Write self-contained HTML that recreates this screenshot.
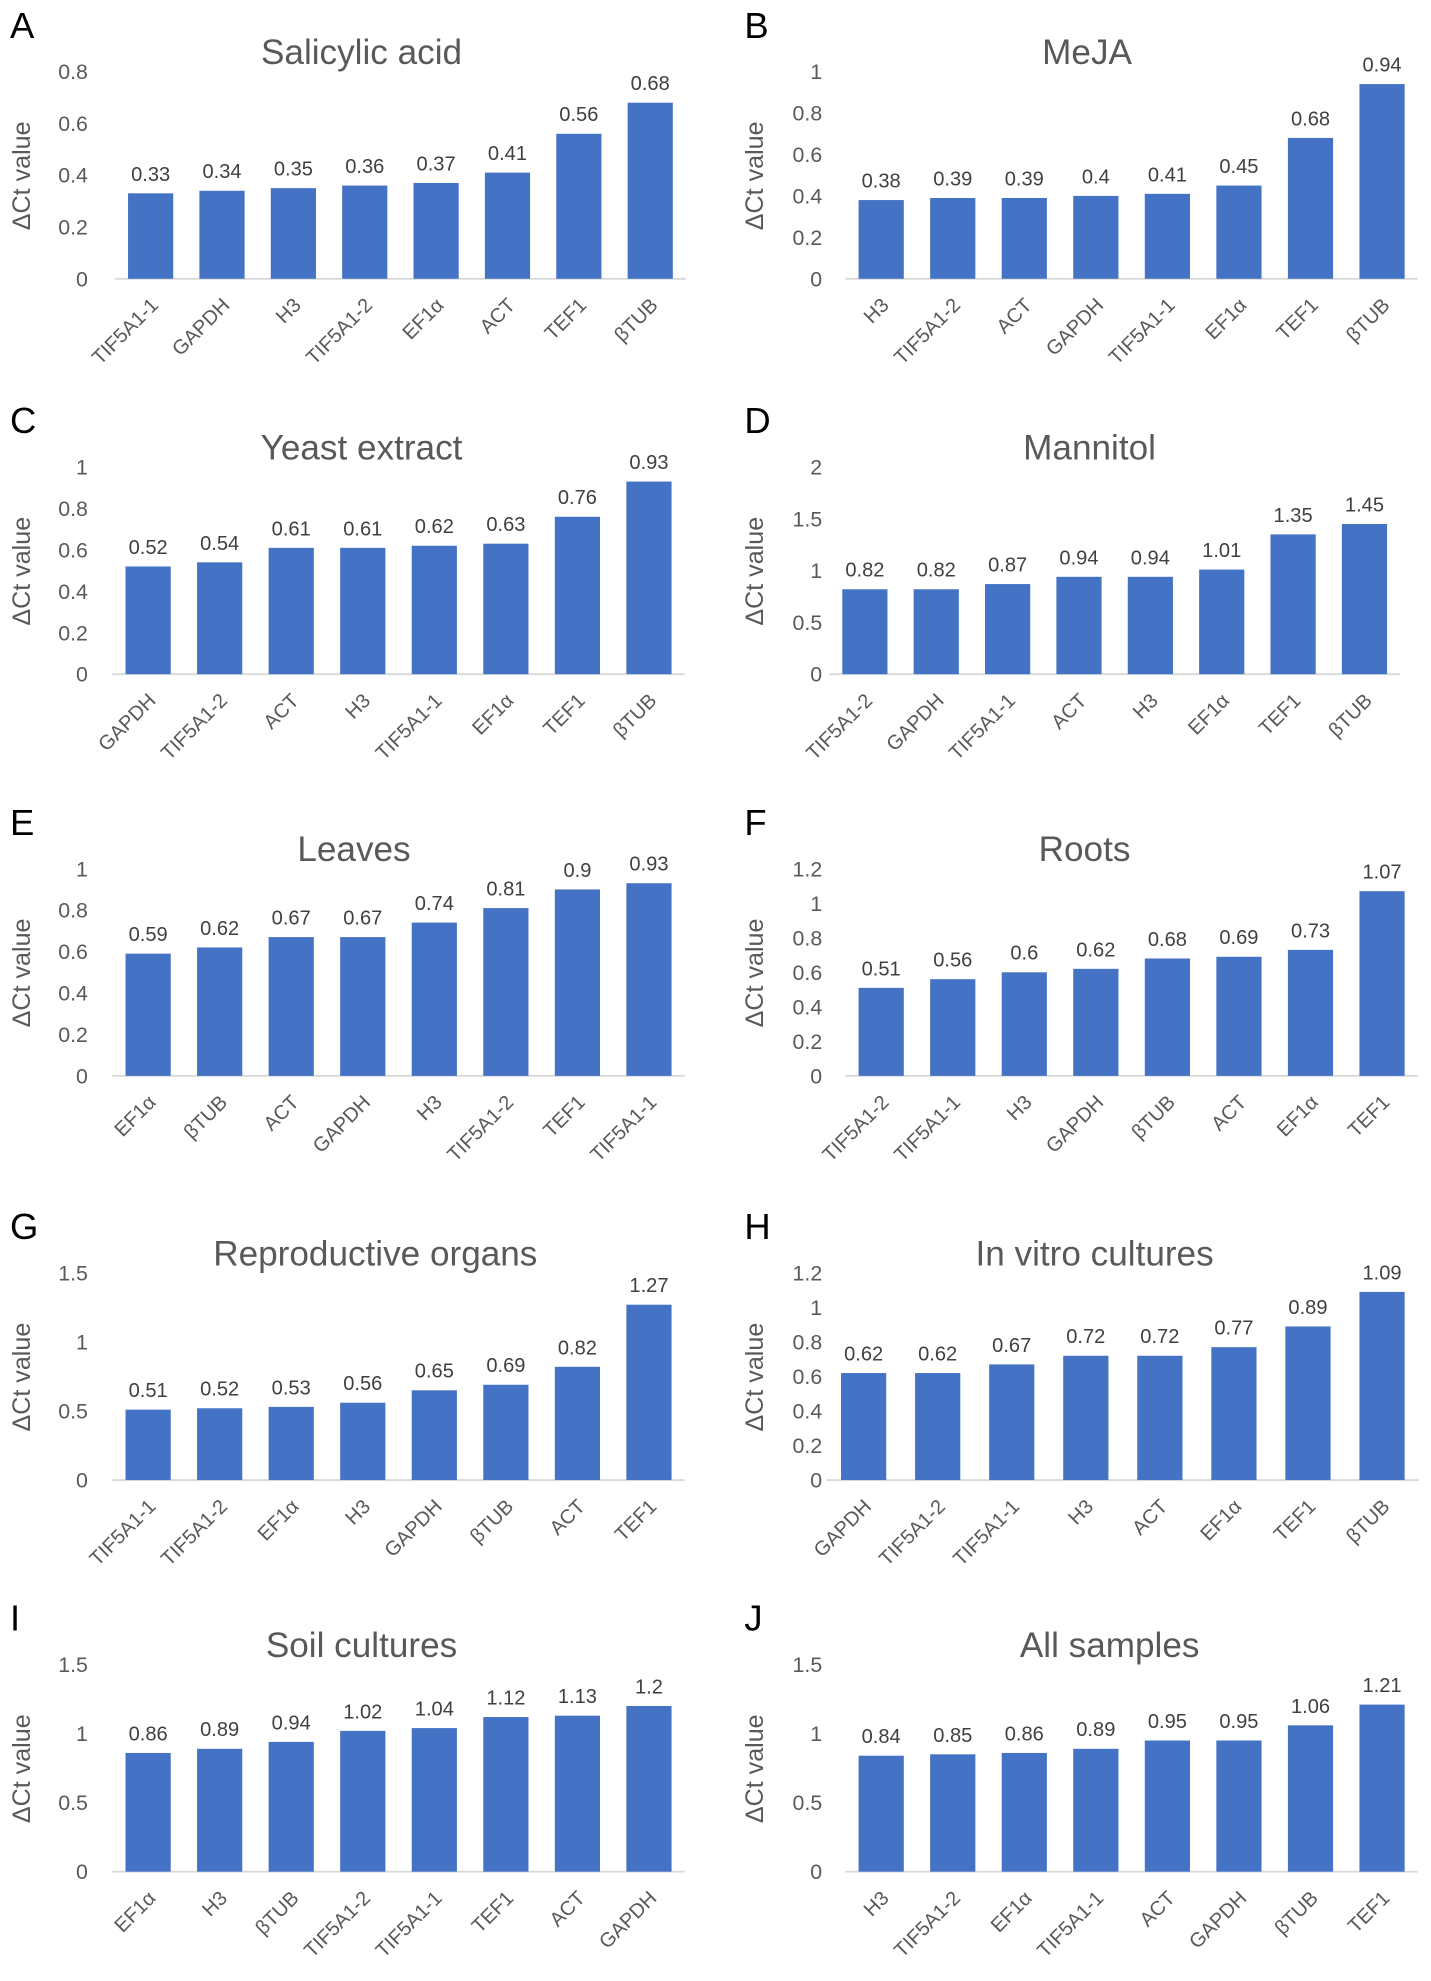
<!DOCTYPE html>
<html><head><meta charset="utf-8"><style>
html,body{margin:0;padding:0;background:#fff}
svg{display:block}
text{font-family:"Liberation Sans","DejaVu Sans",sans-serif}
</style></head><body>
<svg id="fig" width="1431" height="1981" viewBox="0 0 1140 1578" xmlns="http://www.w3.org/2000/svg"></svg>
<script>
const panelLetters=["A","B","C","D","E","F","G","H","I","J"];
const titles=["Salicylic acid","MeJA","Yeast extract","Mannitol","Leaves","Roots","Reproductive organs","In vitro cultures","Soil cultures","All samples"];
const catsA=["TIF5A1-1","GAPDH","H3","TIF5A1-2","EF1α","ACT","TEF1","βTUB"];
const valsA=[0.33,0.34,0.35,0.36,0.37,0.41,0.56,0.68];
const catsB=["H3","TIF5A1-2","ACT","GAPDH","TIF5A1-1","EF1α","TEF1","βTUB"];
const valsB=[0.38,0.39,0.39,0.4,0.41,0.45,0.68,0.94];
const catsC=["GAPDH","TIF5A1-2","ACT","H3","TIF5A1-1","EF1α","TEF1","βTUB"];
const valsC=[0.52,0.54,0.61,0.61,0.62,0.63,0.76,0.93];
const catsD=["TIF5A1-2","GAPDH","TIF5A1-1","ACT","H3","EF1α","TEF1","βTUB"];
const valsD=[0.82,0.82,0.87,0.94,0.94,1.01,1.35,1.45];
const catsE=["EF1α","βTUB","ACT","GAPDH","H3","TIF5A1-2","TEF1","TIF5A1-1"];
const valsE=[0.59,0.62,0.67,0.67,0.74,0.81,0.9,0.93];
const catsF=["TIF5A1-2","TIF5A1-1","H3","GAPDH","βTUB","ACT","EF1α","TEF1"];
const valsF=[0.51,0.56,0.6,0.62,0.68,0.69,0.73,1.07];
const catsG=["TIF5A1-1","TIF5A1-2","EF1α","H3","GAPDH","βTUB","ACT","TEF1"];
const valsG=[0.51,0.52,0.53,0.56,0.65,0.69,0.82,1.27];
const catsH=["GAPDH","TIF5A1-2","TIF5A1-1","H3","ACT","EF1α","TEF1","βTUB"];
const valsH=[0.62,0.62,0.67,0.72,0.72,0.77,0.89,1.09];
const catsI=["EF1α","H3","βTUB","TIF5A1-2","TIF5A1-1","TEF1","ACT","GAPDH"];
const valsI=[0.86,0.89,0.94,1.02,1.04,1.12,1.13,1.2];
const catsJ=["H3","TIF5A1-2","EF1α","TIF5A1-1","ACT","GAPDH","βTUB","TEF1"];
const valsJ=[0.84,0.85,0.86,0.89,0.95,0.95,1.06,1.21];
const yMax=[0.8,1,1,2,1,1.2,1.5,1.2,1.5,1.5];
const yStep=[0.2,0.2,0.2,0.5,0.2,0.2,0.5,0.2,0.5,0.5];
const allCats=[catsA,catsB,catsC,catsD,catsE,catsF,catsG,catsH,catsI,catsJ];
const allVals=[valsA,valsB,valsC,valsD,valsE,valsF,valsG,valsH,valsI,valsJ];

const NS="http://www.w3.org/2000/svg";
const svg=document.getElementById('fig');
function mk(tag,attrs,parent,txt){const e=document.createElementNS(NS,tag);for(const k in attrs)e.setAttribute(k,attrs[k]);if(txt!==undefined)e.textContent=txt;parent.appendChild(e);return e;}
const baselines=[222,537,857,1179,1491];
const xFirst=[120,702,118,689,118,702,118,688,118,702];
const xLast=[518,1101,517,1087,517,1101,517,1101,517,1101];
const titleX=[288,866,288,868,282,864,299,872,288,884];
const plotH=165;
function fmt(v){return String(Math.round(v*100)/100);}
for(let p=0;p<10;p++){
  const col=p%2,row=Math.floor(p/2);
  const base=baselines[row];
  const g=mk('g',{},svg);
  
  
  const ox=col===0?0:585;
  const lab=mk('text',{x:ox+8,y:base-192,'font-size':29,fill:'#000'},g,panelLetters[p]);
  
  
  const x0=xFirst[p],x1=xLast[p];
  const t=mk('text',{x:titleX[p],y:base-171,'font-size':28,'text-anchor':'middle',fill:'#595959'},g,titles[p]);
  
  
  const yScale=v=>base-v/yMax[p]*plotH;
  const tickX=col===0?70:655;
  const nT=Math.round(yMax[p]/yStep[p]);
  for(let i=0;i<=nT;i++){
    const v=i*yStep[p];
    const tl=mk('text',{x:tickX,y:yScale(v)+6,'font-size':17,'text-anchor':'end',fill:'#595959'},g,fmt(v));
    
    
  }
  const yt=col===0?24:608;
  const ytl=mk('text',{x:yt,y:base-82,'font-size':20,'text-anchor':'middle',fill:'#595959',transform:`rotate(-90 ${yt} ${base-82})`},g,'ΔCt value');
  
  
  const step=(x1-x0)/7;
  const ax=mk('line',{x1:x0-step/2,x2:x1+step/2,y1:base,y2:base,stroke:'#d9d9d9','stroke-width':1.5},g);
  
  
  const cats=allCats[p],vals=allVals[p];
  for(let i=0;i<cats.length;i++){
    const c=x0+i*step;
    const y=yScale(vals[i]);
    const r=mk('rect',{x:c-18,y:y,width:36,height:base-y,fill:'#4472C4'},g);
    
    
    const vl=mk('text',{x:c,y:y-10,'font-size':16,'text-anchor':'middle',fill:'#404040'},g,fmt(vals[i]));
    
    
    const lx=c+7,ly=base+22;
    const cl=mk('text',{x:lx,y:ly,'font-size':16,'text-anchor':'end',fill:'#595959',transform:`rotate(-45 ${lx} ${ly})`},g,cats[i]);
    
    
  }
}
</script>
</body></html>
